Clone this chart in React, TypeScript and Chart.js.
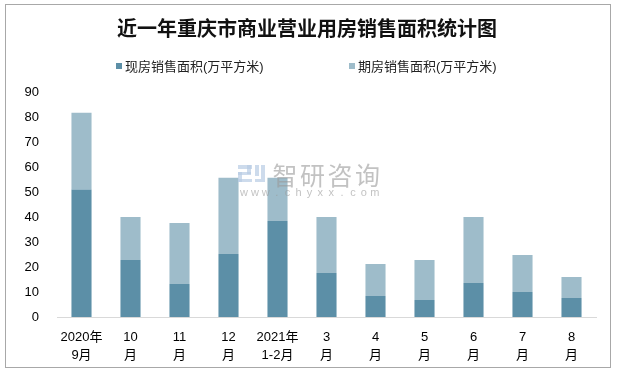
import React, { useEffect, useRef } from "react";
import { Chart, registerables } from "chart.js";

Chart.register(...registerables);

const TITLE = "近一年重庆市商业营业用房销售面积统计图";
const SERIES_NAMES = ["现房销售面积(万平方米)", "期房销售面积(万平方米)"];
const CATEGORIES: string[][] = [
  ["2020年", "9月"],
  ["10", "月"],
  ["11", "月"],
  ["12", "月"],
  ["2021年", "1-2月"],
  ["3", "月"],
  ["4", "月"],
  ["5", "月"],
  ["6", "月"],
  ["7", "月"],
  ["8", "月"],
];
const CURRENT_AREA = [51.0, 22.8, 13.2, 25.2, 38.4, 17.6, 8.4, 6.8, 13.6, 10.0, 7.6];
const FUTURE_AREA = [30.7, 17.2, 24.4, 30.5, 17.3, 22.4, 12.8, 16.0, 26.4, 14.8, 8.4];
const Y_MIN = 0;
const Y_MAX = 90;
const Y_STEP = 10;
const WATERMARK = "智研咨询";
const WATERMARK_URL = "www.chyxx.com";

const COLORS = ["#5C8FA7", "#9EBCCA"];
const FONT = "'Liberation Sans', 'Noto Sans CJK SC', sans-serif";

const framePlugin = {
  id: "frame",
  beforeDraw(chart: any) {
    const ctx = chart.ctx;
    ctx.save();
    ctx.fillStyle = "#ffffff";
    ctx.fillRect(0, 0, chart.width, chart.height);
    ctx.strokeStyle = "#A8A8A8";
    ctx.lineWidth = 1;
    ctx.strokeRect(5.5, 4.5, 605, 363);
    ctx.restore();
  },
  afterDraw(chart: any) {
    const ctx = chart.ctx;
    ctx.save();
    // title
    ctx.fillStyle = "#111111";
    ctx.font = "bold 20px 'Noto Sans CJK SC', serif";
    ctx.textAlign = "center";
    ctx.textBaseline = "middle";
    ctx.fillText(TITLE, 307, 28);
    // legend
    ctx.font = "13px " + FONT;
    ctx.textAlign = "left";
    const legendX = [116, 349];
    SERIES_NAMES.forEach((name, i) => {
      ctx.fillStyle = COLORS[i];
      ctx.fillRect(legendX[i], 63, 6, 6);
      ctx.fillStyle = "#222222";
      ctx.fillText(name, legendX[i] + 9, 67);
    });
    // watermark
    ctx.globalAlpha = 0.6;
    ctx.fillStyle = "#9A9A9A";
    ctx.font = "25px 'Noto Sans CJK SC', sans-serif";
    ctx.textAlign = "center";
    Array.from(WATERMARK).forEach((ch, i) => {
      ctx.fillText(ch, 285 + i * 27.5, 175);
    });
    ctx.font = "11px " + FONT;
    Array.from(WATERMARK_URL).forEach((ch, i) => {
      ctx.fillText(ch, 244 + i * 10.9, 193);
    });
    ctx.globalAlpha = 0.7;
    ctx.fillStyle = "#B8CCE4";
    ctx.fillRect(238, 165, 14, 4);
    ctx.fillRect(247, 165, 4, 9);
    ctx.fillRect(238, 172, 13, 3);
    ctx.fillRect(238, 172, 4, 10);
    ctx.fillRect(238, 179, 14, 3);
    ctx.fillRect(255, 165, 4, 11);
    ctx.fillRect(255, 179, 10, 3);
    ctx.fillRect(261, 165, 4, 14);
    ctx.restore();
  },
};

export default function App() {
  const canvasRef = useRef<HTMLCanvasElement | null>(null);

  useEffect(() => {
    const canvas = canvasRef.current;
    if (!canvas) return;
    const chart = new Chart(canvas, {
      type: "bar",
      data: {
        labels: CATEGORIES,
        datasets: [
          {
            label: SERIES_NAMES[0],
            data: CURRENT_AREA,
            backgroundColor: COLORS[0],
            barPercentage: 0.41,
            categoryPercentage: 1,
          },
          {
            label: SERIES_NAMES[1],
            data: FUTURE_AREA,
            backgroundColor: COLORS[1],
            barPercentage: 0.41,
            categoryPercentage: 1,
          },
        ],
      },
      options: {
        responsive: false,
        animation: false,
        devicePixelRatio: 1,
        layout: { padding: { left: 8, right: 27, top: 92, bottom: 8 } },
        plugins: {
          legend: { display: false },
          title: { display: false },
          tooltip: { enabled: false },
        },
        scales: {
          x: {
            stacked: true,
            grid: { display: false, drawTicks: false },
            border: { display: true, color: "#D9D9D9", width: 1 },
            ticks: {
              color: "#000000",
              padding: 11,
              maxRotation: 0,
              autoSkip: false,
              font: { family: FONT, size: 13, lineHeight: 18 / 13 },
            },
            afterFit(scale: any) {
              scale.height = 47;
            },
          },
          y: {
            stacked: true,
            min: Y_MIN,
            max: Y_MAX,
            grid: { display: false, drawTicks: false },
            border: { display: false },
            ticks: {
              stepSize: Y_STEP,
              color: "#000000",
              padding: 18,
              font: { family: FONT, size: 13 },
            },
            afterFit(scale: any) {
              scale.width = 49;
            },
          },
        },
      },
      plugins: [framePlugin],
    });
    return () => chart.destroy();
  }, []);

  return (
    <div style={{ position: "absolute", left: 0, top: 0, width: 623, height: 372 }}>
      <canvas ref={canvasRef} width={623} height={372} style={{ display: "block" }} />
    </div>
  );
}
